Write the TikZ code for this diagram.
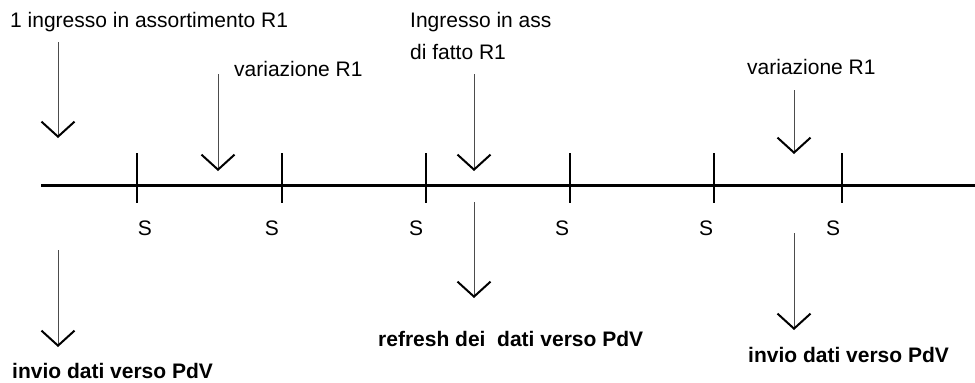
\documentclass[tikz,border=0pt]{standalone}
\usepackage{fontspec}
\setmainfont{Liberation Sans}
\usetikzlibrary{arrows.meta}
\tikzset{>={Straight Barb[length=15pt,width=33pt,line width=2pt,color=black]}}
\tikzset{
  lbl/.style={inner sep=0pt, font=\fontsize{21}{32}\selectfont},
  blbl/.style={inner sep=0pt, font=\fontsize{21}{32}\selectfont\bfseries},
  asse/.style={line width=2.6pt, black},
  evento/.style={->, line width=1pt, black!70}
}

\begin{document}
\begin{tikzpicture}[x=1pt,y=-1pt]
\useasboundingbox (0,0) rectangle (975,383);

% linea del tempo
\coordinate (t0) at (41,185.5);
\coordinate (t1) at (975,185.5);
\draw[asse] (t0) -- (t1);

% tacche S
\coordinate (k1a) at (137,153); \coordinate (k1b) at (137,203);
\coordinate (k2a) at (282,153); \coordinate (k2b) at (282,203);
\coordinate (k3a) at (426,153); \coordinate (k3b) at (426,203);
\coordinate (k4a) at (570,153); \coordinate (k4b) at (570,203);
\coordinate (k5a) at (714,153); \coordinate (k5b) at (714,203);
\coordinate (k6a) at (842,153); \coordinate (k6b) at (842,203);
\draw[asse] (k1a) -- (k1b);
\draw[asse] (k2a) -- (k2b);
\draw[asse] (k3a) -- (k3b);
\draw[asse] (k4a) -- (k4b);
\draw[asse] (k5a) -- (k5b);
\draw[asse] (k6a) -- (k6b);
\node[lbl, anchor=base] (s1) at (145,235) {S};
\node[lbl, anchor=base] (s2) at (272,235) {S};
\node[lbl, anchor=base] (s3) at (416,235) {S};
\node[lbl, anchor=base] (s4) at (562,235) {S};
\node[lbl, anchor=base] (s5) at (706,235) {S};
\node[lbl, anchor=base] (s6) at (833,235) {S};

% eventi sopra
\node[lbl, anchor=base west] (ingr) at (10,27) {1 ingresso in assortimento R1};
\node[lbl, anchor=base west] (var1) at (234,76) {variazione R1};
\node[lbl, anchor=north west, align=left] (fatto) at (410,12) {Ingresso in ass\\di fatto R1};
\node[lbl, anchor=base west] (var2) at (747,74) {variazione R1};

\coordinate (a1) at (58,42);   \coordinate (a1e) at (58,138);
\coordinate (a2) at (218,74);  \coordinate (a2e) at (218,171);
\coordinate (a3) at (474,74);  \coordinate (a3e) at (474,171);
\coordinate (a4) at (794,90);  \coordinate (a4e) at (794,154);
\draw[evento] (a1) -- (a1e);
\draw[evento] (a2) -- (a2e);
\draw[evento] (a3) -- (a3e);
\draw[evento] (a4) -- (a4e);

% invii sotto
\coordinate (b1) at (58,250);  \coordinate (b1e) at (58,347);
\coordinate (b2) at (474,202); \coordinate (b2e) at (474,298);
\coordinate (b3) at (794,233); \coordinate (b3e) at (794,330);
\draw[evento] (b1) -- (b1e);
\draw[evento] (b2) -- (b2e);
\draw[evento] (b3) -- (b3e);

\node[blbl, anchor=base west] (invio1) at (12,378) {invio dati verso PdV};
\node[blbl, anchor=base west] (refresh) at (378,346) {refresh dei\ \ dati verso PdV};
\node[blbl, anchor=base west] (invio2) at (748,362) {invio dati verso PdV};

\end{tikzpicture}
\end{document}
